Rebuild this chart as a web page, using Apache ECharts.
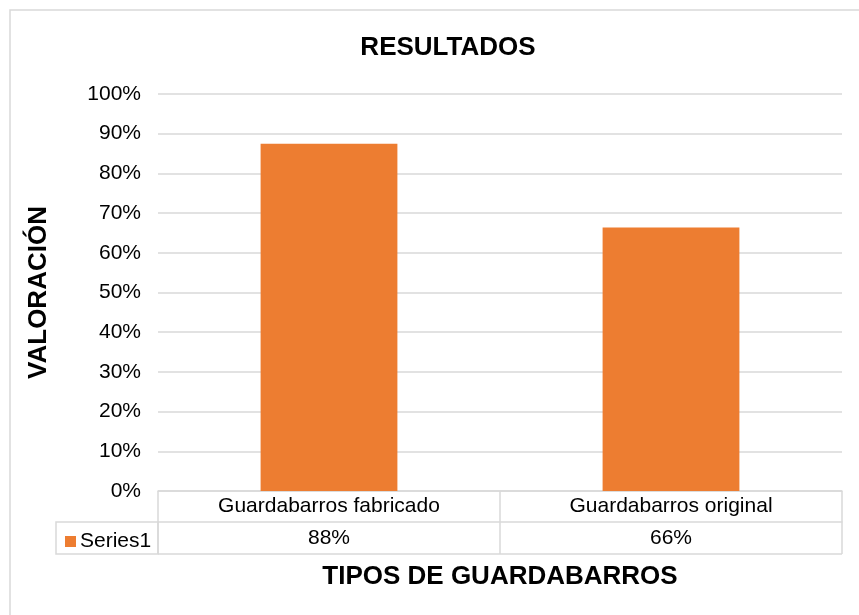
<!DOCTYPE html>
<html>
<head>
<meta charset="utf-8">
<script src="https://cdn.jsdelivr.net/npm/echarts@6/dist/echarts.min.js"></script>
<style>
  html, body { margin: 0; padding: 0; background: #fff; }
  #chart { width: 859px; height: 615px; }
</style>
</head>
<body>
<div id="chart"></div>
<script>
// Chart data
const categories = ['Guardabarros fabricado', 'Guardabarros original'];
const seriesName = 'Series1';
const seriesValues = [0.875, 0.664];
const yTicks = [0, 0.1, 0.2, 0.3, 0.4, 0.5, 0.6, 0.7, 0.8, 0.9, 1.0];

const FONT = '"Liberation Sans", Arial, sans-serif';
const ORANGE = '#ED7D31';
const LINE = '#d9d9d9';
const pct = v => Math.round(v * 100) + '%';

const chart = echarts.init(document.getElementById('chart'));

chart.setOption({
  animation: false,
  backgroundColor: '#fff',
  textStyle: { fontFamily: FONT },
  title: {
    text: 'RESULTADOS',
    left: 443,
    top: 30,
    textAlign: 'center',
    textStyle: { fontFamily: FONT, fontSize: 26, fontWeight: 'bold', color: '#000' }
  },
  legend: {
    data: [seriesName],
    left: 60,
    top: 526,
    icon: 'rect',
    itemWidth: 11,
    itemHeight: 11,
    itemGap: 5,
    textStyle: { fontFamily: FONT, fontSize: 21, color: '#000', padding: [0, 0, 0, -1] }
  },
  grid: { left: 158, right: 17, top: 94, bottom: 124, containLabel: false },
  xAxis: [
    {
      type: 'category',
      data: categories,
      position: 'bottom',
      name: 'TIPOS DE GUARDABARROS',
      nameLocation: 'middle',
      nameGap: 73,
      nameTextStyle: { fontFamily: FONT, fontSize: 26, fontWeight: 'bold', color: '#000' },
      axisLine: { show: true, lineStyle: { color: LINE, width: 1.5 } },
      axisTick: { show: true, length: 63, lineStyle: { color: LINE, width: 1.5 } },
      axisLabel: { margin: 5, fontFamily: FONT, fontSize: 21, color: '#000' }
    },
    {
      type: 'category',
      data: categories,
      position: 'bottom',
      offset: 31,
      axisLine: { show: true, lineStyle: { color: LINE, width: 1.5 } },
      axisTick: { show: false },
      axisLabel: {
        margin: 6,
        fontFamily: FONT,
        fontSize: 21,
        color: '#000',
        formatter: (v, i) => pct(seriesValues[i])
      }
    }
  ],
  yAxis: {
    type: 'value',
    min: 0,
    max: 1,
    interval: 0.1,
    name: 'VALORACIÓN',
    nameLocation: 'middle',
    nameRotate: 90,
    nameGap: 106,
    nameTextStyle: { fontFamily: FONT, fontSize: 26, fontWeight: 'bold', color: '#000' },
    axisLine: { show: false },
    axisTick: { show: false },
    axisLabel: {
      margin: 17,
      fontFamily: FONT,
      fontSize: 21,
      color: '#000',
      formatter: v => yTicks.some(t => Math.abs(t - v) < 1e-9) ? pct(v) : ''
    },
    splitLine: { show: true, lineStyle: { color: LINE, width: 1.5 } }
  },
  series: [
    {
      name: seriesName,
      type: 'bar',
      data: seriesValues,
      xAxisIndex: 0,
      barCategoryGap: '60%',
      itemStyle: { color: ORANGE }
    }
  ],
  graphic: [
    // outer chart frame
    {
      type: 'rect',
      shape: { x: 10, y: 10, width: 900, height: 700 },
      style: { fill: 'none', stroke: LINE, lineWidth: 1.5 },
      silent: true
    },
    // legend cell of the data table
    {
      type: 'rect',
      shape: { x: 56, y: 522, width: 102, height: 32 },
      style: { fill: 'none', stroke: LINE, lineWidth: 1.5 },
      silent: true
    },
    // bottom edge of the data table
    {
      type: 'line',
      shape: { x1: 158, y1: 554, x2: 842, y2: 554 },
      style: { stroke: LINE, lineWidth: 1.5 },
      silent: true
    }
  ]
});
</script>
</body>
</html>
